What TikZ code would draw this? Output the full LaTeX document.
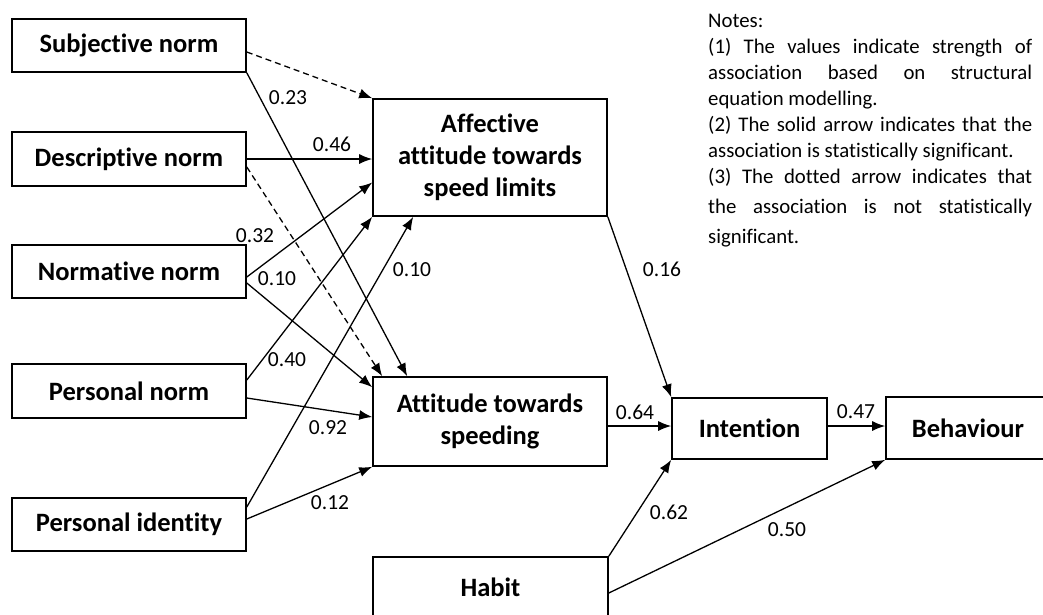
\documentclass[tikz,border=0pt]{standalone}
\usepackage{fontspec}
\setmainfont{Carlito}[Ligatures=NoCommon]
\usetikzlibrary{arrows.meta,calc}
\begin{document}
\begin{tikzpicture}[x=1pt,y=-1pt,
  box/.style={draw,line width=1.6pt,inner sep=0pt,align=center,font=\fontsize{26.5}{32}\selectfont\bfseries},
  conn/.style={line width=1.3pt,-{Latex[length=13pt,width=10pt]}},
  dconn/.style={conn,dash pattern=on 6pt off 4pt},
  lbl/.style={font=\fontsize{21.5}{24}\selectfont,inner sep=0pt},
  note/.style={font=\fontsize{20.8}{24}\selectfont,inner sep=0pt,anchor=base west}]
\useasboundingbox (0,0) rectangle (1043,614);
% boxes
\node[box,minimum width=234pt,minimum height=53pt] (subj) at (129,45.5) {Subjective norm};
\node[box,minimum width=234pt,minimum height=54pt] (desc) at (129,159) {Descriptive norm};
\node[box,minimum width=234pt,minimum height=53pt] (normn) at (129,271.5) {Normative norm};
\node[box,minimum width=234pt,minimum height=54pt] (pers) at (129,391) {Personal norm};
\node[box,minimum width=234pt,minimum height=53pt] (ident) at (129,524.5) {Personal identity};
\node[box,minimum width=234pt,minimum height=117pt] (aff) at (490,157.5) {Affective\\attitude towards\\speed limits};
\node[box,minimum width=234pt,minimum height=89pt] (att) at (490,421.5) {Attitude towards\\speeding};
\node[box,minimum width=155pt,minimum height=61pt] (int) at (749.5,428.5) {Intention};
\node[box,minimum width=164pt,minimum height=62pt] (beh) at (968,428) {Behaviour};
\node[box,minimum width=235pt,minimum height=60pt] (habit) at (490.5,587) {Habit};
% connectors
\draw[dconn] ([yshift=-6.5pt]subj.east) -- (aff.north west);
\draw[conn] (subj.south east) -- ([xshift=35pt]att.north west);
\draw[conn] (desc.east) -- (desc.east -| aff.west);
\draw[dconn] ([yshift=-8pt]desc.east) -- ([xshift=10pt]att.north west);
\draw[conn] ([yshift=-5.5pt]normn.east) -- ([yshift=-25pt]aff.west);
\draw[conn] ([yshift=-11.5pt]normn.east) -- ([yshift=-11pt]att.north west);
\draw[conn] ([yshift=11pt]pers.east) -- (aff.south west);
\draw[conn] ([yshift=-7pt]pers.east) -- ([yshift=4.5pt]att.west);
\draw[conn] ([yshift=17.5pt]ident.east) -- ([xshift=41pt]aff.south west);
\draw[conn] ([yshift=5.5pt]ident.east) -- (att.south west);
\draw[conn] (aff.south east) -- (int.north west);
\coordinate (intin) at ([yshift=2.5pt]int.west);
\draw[conn] (att.east |- intin) -- (intin);
\coordinate (behin) at ([yshift=2pt]beh.west);
\draw[conn] (int.east |- behin) -- (behin);
\draw[conn] (habit.north east) -- (int.south west);
\draw[conn] ([yshift=-6pt]habit.east) -- (beh.south west);
% labels
\node[lbl] (l1) at (288,98) {0.23};
\node[lbl] (l2) at (332,144) {0.46};
\node[lbl] (l3) at (255,236) {0.32};
\node[lbl] (l4) at (277,279) {0.10};
\node[lbl] (l5) at (412,270) {0.10};
\node[lbl] (l6) at (662,269) {0.16};
\node[lbl] (l7) at (287,360) {0.40};
\node[lbl] (l8) at (328,428) {0.92};
\node[lbl] (l9) at (330,503) {0.12};
\node[lbl] (l10) at (635,412) {0.64};
\node[lbl] (l11) at (856,412) {0.47};
\node[lbl] (l12) at (669,512) {0.62};
\node[lbl] (l13) at (787,530) {0.50};
% notes
\node[note] (n1) at (708,27) {Notes:};
\node[note] (n2) at (708,53) {\makebox[324pt][s]{(1) The values indicate strength of}};
\node[note] (n3) at (708,79) {\makebox[324pt][s]{association based on structural}};
\node[note] (n4) at (708,105) {equation modelling.};
\node[note] (n5) at (708,131) {\makebox[324pt][s]{(2) The solid arrow indicates that the}};
\node[note] (n6) at (708,157) {association is statistically significant.};
\node[note] (n7) at (708,183) {\makebox[324pt][s]{(3) The dotted arrow indicates that}};
\node[note] (n8) at (708,213) {\makebox[324pt][s]{the association is not statistically}};
\node[note] (n9) at (708,243) {significant.};
\end{tikzpicture}
\end{document}
